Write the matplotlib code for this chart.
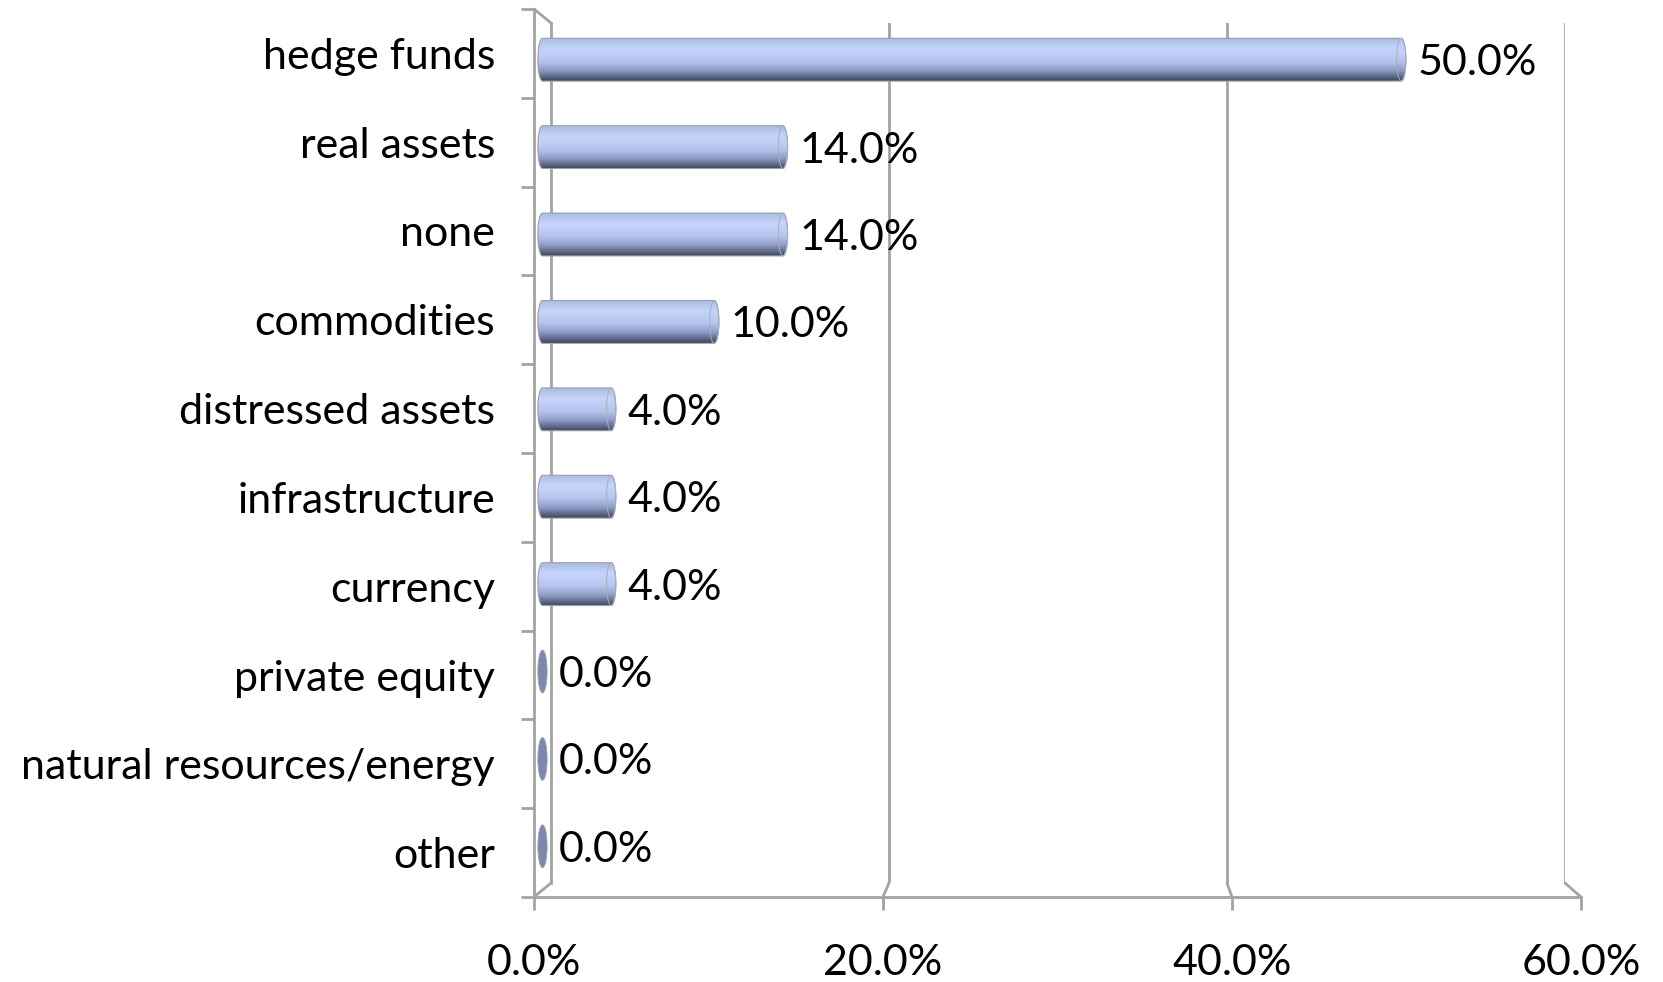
import numpy as np
import matplotlib
matplotlib.use("Agg")
import matplotlib.pyplot as plt
from matplotlib.colors import LinearSegmentedColormap
from matplotlib.patches import ConnectionPatch, PathPatch, Ellipse
from matplotlib.path import Path

plt.rcParams['font.family'] = ['Lato', 'DejaVu Sans']

CATEGORIES = ["hedge funds", "real assets", "none", "commodities", "distressed assets",
              "infrastructure", "currency", "private equity", "natural resources/energy", "other"]
VALUES = [50.0, 14.0, 14.0, 10.0, 4.0, 4.0, 4.0, 0.0, 0.0, 0.0]
X_TICKS = [0, 20, 40, 60]
X_TICK_LABELS = ["0.0%", "20.0%", "40.0%", "60.0%"]

W, H = 1663, 982
FS = 31
LINE_C = "#a3a3a3"
LINE_W = 2.0

BAR_CMAP = LinearSegmentedColormap.from_list("cyl", [
    (0.0, "#aabbe6"), (0.25, "#c6d6fa"), (0.55, "#b3c3ee"),
    (0.75, "#8e9cc6"), (0.9, "#5d6886"), (1.0, "#3c4558")])


def px_box(left, top, right, bottom):
    # pixel box -> figure fraction rect
    return [left / W, 1 - bottom / H, (right - left) / W, (bottom - top) / H]


fig = plt.figure(figsize=(W / 100, H / 100), dpi=100)
n = len(CATEGORIES)

# back wall
back = fig.add_axes(px_box(551, 23, 1565, 883), zorder=0)
back.set_xlim(0, 60)
back.set_ylim(n - 0.5, -0.5)
back.patch.set_visible(False)
for s in ["top", "right", "bottom"]:
    back.spines[s].set_visible(False)
back.spines["left"].set_color(LINE_C)
back.spines["left"].set_linewidth(LINE_W)
back.set_xticks([])
back.set_yticks([])
for t in X_TICKS[1:]:
    back.axvline(t, color=LINE_C, lw=LINE_W)

# front axes with ticks and labels
front = fig.add_axes(px_box(534, 9, 1581, 897), zorder=1)
front.set_xlim(0, 60)
front.set_ylim(n - 0.5, -0.5)
front.patch.set_visible(False)
for s in ["top", "right"]:
    front.spines[s].set_visible(False)
for s in ["left", "bottom"]:
    front.spines[s].set_color(LINE_C)
    front.spines[s].set_linewidth(LINE_W)
front.set_xticks(X_TICKS)
front.set_xticklabels(X_TICK_LABELS, fontsize=FS)
front.tick_params(axis="x", direction="out", length=9.5, width=LINE_W, color=LINE_C, pad=24)
front.set_yticks(np.arange(n + 1) - 0.5)
front.set_yticklabels([])
front.set_yticks(np.arange(n), minor=True)
front.set_yticklabels(CATEGORIES, minor=True, fontsize=FS)
front.tick_params(axis="y", which="major", direction="out", length=9.5, width=LINE_W, color=LINE_C)
front.tick_params(axis="y", which="minor", length=0, pad=28)

# depth connectors between back wall and front
corners = [(0, -0.5), (0, n - 0.5)] + [(t, n - 0.5) for t in X_TICKS[1:]]
for xy in corners:
    con = ConnectionPatch(xyA=xy, coordsA=back.transData, xyB=xy, coordsB=front.transData,
                          color=LINE_C, lw=LINE_W)
    fig.add_artist(con)

# bars in the middle plane
ax = fig.add_axes(px_box(542.5, 16, 1573, 890), zorder=2)
ax.set_xlim(0, 60)
ax.set_ylim(n - 0.5, -0.5)
ax.axis("off")

bar_h = 0.49
cap = 0.27
grad = np.linspace(0, 1, 256).reshape(-1, 1)
theta = np.linspace(np.pi / 2, -np.pi / 2, 40)

for i, v in enumerate(VALUES):
    if v <= 0:
        ax.add_patch(Ellipse((0, i), 2 * cap, bar_h, facecolor="#7e88aa",
                             edgecolor="#9aa2b8", lw=0.6, clip_on=False))
    else:
        right = np.column_stack([v + cap * np.cos(theta), i - bar_h / 2 * np.sin(theta)])
        left = np.column_stack([-cap * np.cos(theta), i + bar_h / 2 * np.sin(theta)])
        verts = np.vstack([right, left, right[:1]])
        codes = [Path.MOVETO] + [Path.LINETO] * (len(verts) - 2) + [Path.CLOSEPOLY]
        patch = PathPatch(Path(verts, codes), facecolor="none", edgecolor="#9a9ea8", lw=0.8,
                          transform=ax.transData, clip_on=False, zorder=2)
        ax.add_patch(patch)
        im = ax.imshow(grad, extent=[-cap, v + cap, i + bar_h / 2, i - bar_h / 2],
                       aspect="auto", cmap=BAR_CMAP, interpolation="bicubic", zorder=1)
        im.set_clip_box(fig.bbox)
        im.set_clip_path(patch)
        ax.add_patch(Ellipse((v, i), 2 * cap, bar_h, facecolor="none",
                             edgecolor="#a8aebb", lw=0.7, zorder=2, clip_on=False))
    ax.annotate(f"{v:.1f}%", (v, i), xytext=(12, 0), textcoords="offset points",
                va="center_baseline", ha="left", fontsize=FS, color="black")

ax.set_xlim(0, 60)
ax.set_ylim(n - 0.5, -0.5)

fig.savefig("out.png", dpi=100, facecolor="white")
